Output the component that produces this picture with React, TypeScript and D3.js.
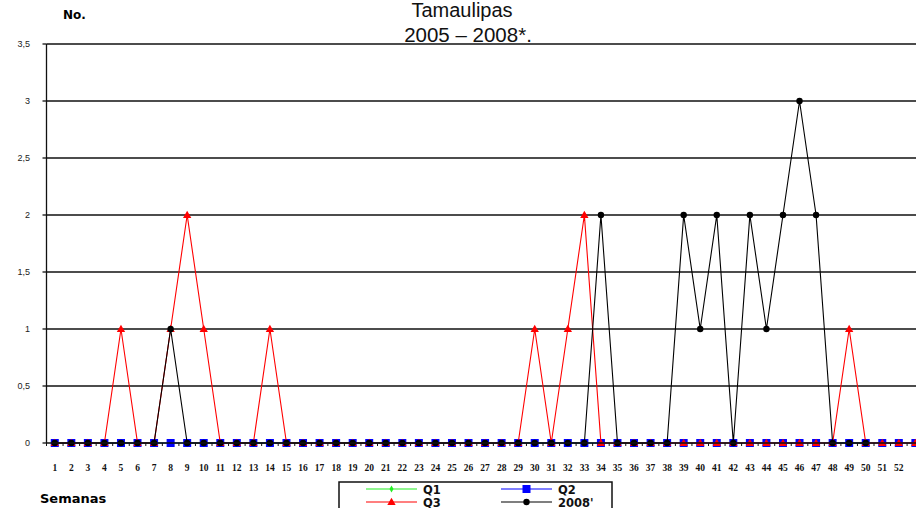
import * as d3 from "d3";

// weeks 1..53 (the 53rd is cut off at the right edge, no label)
const weeks = d3.range(1, 54);
const weekLabels = d3.range(1, 53).map(String);

const q1 = [
  0, 0, 0, 0, 0, 0, 0, 0, 0, 0, 0, 0, 0, 0, 0, 0, 0, 0, 0, 0, 0, 0, 0, 0, 0, 0,
  0, 0, 0, 0, 0, 0, 0, 0, 0, 0, 0, 0, 0, 0, 0, 0, 0, 0, 0, 0, 0, 0, 0, 0, 0, 0, 0,
];
const q2 = [
  0, 0, 0, 0, 0, 0, 0, 0, 0, 0, 0, 0, 0, 0, 0, 0, 0, 0, 0, 0, 0, 0, 0, 0, 0, 0,
  0, 0, 0, 0, 0, 0, 0, 0, 0, 0, 0, 0, 0, 0, 0, 0, 0, 0, 0, 0, 0, 0, 0, 0, 0, 0, 0,
];
const q3 = [
  0, 0, 0, 0, 1, 0, 0, 1, 2, 1, 0, 0, 0, 1, 0, 0, 0, 0, 0, 0, 0, 0, 0, 0, 0, 0,
  0, 0, 0, 1, 0, 1, 2, 0, 0, 0, 0, 0, 0, 0, 0, 0, 0, 0, 0, 0, 0, 0, 1, 0, 0, 0, 0,
];
const y2008: (number | null)[] = [
  0, 0, 0, 0, 0, 0, 0, 1, 0, 0, 0, 0, 0, 0, 0, 0, 0, 0, 0, 0, 0, 0, 0, 0, 0, 0,
  0, 0, 0, 0, 0, 0, 0, 2, 0, 0, 0, 0, 2, 1, 2, 0, 2, 1, 2, 3, 2, 0, 0, 0, null, null, null,
];

const yTicks = [0, 0.5, 1, 1.5, 2, 2.5, 3, 3.5];
const yTickLabels = ["0", "0,5", "1", "1,5", "2", "2,5", "3", "3,5"];

const W = 916;
const H = 508;
const left = 46.5;
const right = W;
const top = 44;
const bottom = 443;

const sans = "Liberation Sans, Arial, sans-serif";
const boldSans = "DejaVu Sans, sans-serif";

type Marker = "diamond" | "square" | "triangle" | "circle";

function MarkerShape({ kind, cx, cy, color }: { kind: Marker; cx: number; cy: number; color: string }) {
  if (kind === "square") return <rect x={cx - 4} y={cy - 4} width={8} height={8} fill={color} />;
  if (kind === "circle") return <circle cx={cx} cy={cy} r={3.2} fill={color} />;
  if (kind === "triangle") {
    const p = d3.symbol(d3.symbolTriangle, 30)();
    return <path d={p || ""} transform={`translate(${cx},${cy + 0.5})`} fill={color} />;
  }
  const p = d3.symbol(d3.symbolDiamond, 14)();
  return <path d={p || ""} transform={`translate(${cx},${cy})`} fill={color} />;
}

const series = [
  { name: "Q1", values: q1 as (number | null)[], color: "#22ee22", marker: "diamond" as Marker },
  { name: "Q2", values: q2 as (number | null)[], color: "#0000ff", marker: "square" as Marker },
  { name: "Q3", values: q3 as (number | null)[], color: "#ff0000", marker: "triangle" as Marker },
  { name: "2008'", values: y2008, color: "#000000", marker: "circle" as Marker },
];

export default function App() {
  const x = d3
    .scaleBand<number>()
    .domain(weeks)
    .range([left, left + weeks.length * 16.55]);
  const cx = (w: number) => (x(w) ?? 0) + x.bandwidth() / 2;
  const y = d3.scaleLinear().domain([0, 3.5]).range([bottom, top]);

  const line = d3
    .line<number | null>()
    .defined((d) => d !== null)
    .x((_, i) => cx(weeks[i]))
    .y((d) => y(d as number));

  const legendPos = [
    { x: 366, y: 489 },
    { x: 501, y: 489 },
    { x: 366, y: 502 },
    { x: 501, y: 502 },
  ];

  return (
    <div style={{ position: "fixed", left: 0, top: 0, background: "#fff" }}>
      <svg width={W} height={H} style={{ display: "block" }}>
        <rect width={W} height={H} fill="#fff" />

        {/* gridlines */}
        {yTicks.slice(1).map((t) => (
          <line key={t} x1={left} x2={right} y1={y(t)} y2={y(t)} stroke="#111" strokeWidth={1.3} />
        ))}

        {/* y axis */}
        <line x1={left} x2={left} y1={top} y2={bottom} stroke="#111" strokeWidth={1.3} />
        {yTicks.map((t, i) => (
          <g key={t}>
            <line x1={left - 4} x2={left} y1={y(t)} y2={y(t)} stroke="#111" strokeWidth={1.3} />
            <text x={30} y={y(t) + 3} textAnchor="end" fontFamily={sans} fontSize={9} fill="#222">
              {yTickLabels[i]}
            </text>
          </g>
        ))}

        {/* series */}
        {series.map((s) => (
          <g key={s.name}>
            <path d={line(s.values) || ""} fill="none" stroke={s.color} strokeWidth={1.1} />
            {s.values.map((v, i) =>
              v === null ? null : (
                <MarkerShape key={i} kind={s.marker} cx={cx(weeks[i])} cy={y(v)} color={s.color} />
              )
            )}
          </g>
        ))}

        {/* x axis */}
        <line x1={left} x2={right} y1={bottom} y2={bottom} stroke="#111" strokeWidth={1.6} />
        {weeks.map((w) => (
          <line key={w} x1={x(w) ?? 0} x2={x(w) ?? 0} y1={bottom} y2={bottom + 3} stroke="#111" strokeWidth={1} />
        ))}
        {weekLabels.map((lab, i) => (
          <text
            key={lab}
            x={cx(weeks[i])}
            y={471}
            textAnchor="middle"
            fontFamily="Liberation Serif, serif"
            fontWeight="bold"
            fontSize={9.5}
            fill="#111"
          >
            {lab}
          </text>
        ))}

        {/* titles */}
        <text x={462} y={16.5} textAnchor="middle" fontFamily={sans} fontSize={20} fill="#111">
          Tamaulipas
        </text>
        <text x={468} y={42} textAnchor="middle" fontFamily={sans} fontSize={20.5} fill="#111">
          2005 – 2008*.
        </text>
        <text x={63} y={19} fontFamily={boldSans} fontWeight="bold" fontSize={12} fill="#000">
          No.
        </text>
        <text x={40} y={502.5} fontFamily={boldSans} fontWeight="bold" fontSize={13} fill="#000">
          Semanas
        </text>

        {/* legend */}
        <rect x={339} y={482} width={273} height={40} fill="#fff" stroke="#111" strokeWidth={1.5} />
        {series.map((s, i) => {
          const p = legendPos[i];
          return (
            <g key={s.name}>
              <line x1={p.x} x2={p.x + 51} y1={p.y} y2={p.y} stroke={s.color} strokeWidth={1.1} />
              <MarkerShape kind={s.marker} cx={p.x + 25.5} cy={p.y} color={s.color} />
              <text x={p.x + 57} y={p.y + 4.5} fontFamily={boldSans} fontWeight="bold" fontSize={11.5} fill="#111">
                {s.name}
              </text>
            </g>
          );
        })}
      </svg>
    </div>
  );
}
